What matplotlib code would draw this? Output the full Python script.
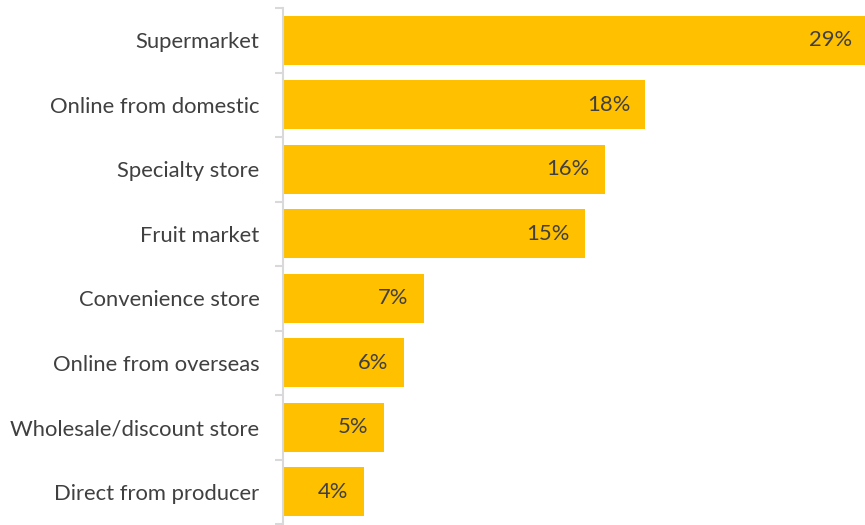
import matplotlib
matplotlib.use("Agg")
import matplotlib.pyplot as plt
from matplotlib.ticker import FixedLocator

categories = [
    "Supermarket",
    "Online from domestic",
    "Specialty store",
    "Fruit market",
    "Convenience store",
    "Online from overseas",
    "Wholesale/discount store",
    "Direct from producer",
]
shares = [29, 18, 16, 15, 7, 6, 5, 4]

BAR_COLOR = "#FFC000"
TEXT_COLOR = "#404040"
AXIS_COLOR = "#D9D9D9"

plt.rcParams["font.family"] = ["Lato", "DejaVu Sans"]

fig = plt.figure(figsize=(8.65, 5.25), dpi=100)
ax = fig.add_axes([283 / 865, 1 / 525, 1 - 283 / 865, 516 / 525])

y = list(range(len(categories)))
ax.barh(y, shares, height=0.76, color=BAR_COLOR)
ax.set_ylim(len(categories) - 0.5, -0.5)
ax.set_xlim(0, 28.9)

for yi, v in zip(y, shares):
    ax.annotate(f"{v}%", xy=(v, yi), xytext=(-11, 0), textcoords="offset points",
                ha="right", va="center", fontsize=15.8, color=TEXT_COLOR,
                annotation_clip=False)

ax.set_yticks(y)
ax.set_yticklabels(categories, fontsize=15.8, color=TEXT_COLOR)
ax.yaxis.set_minor_locator(FixedLocator([i - 0.5 for i in range(len(categories) + 1)]))
ax.tick_params(axis="y", which="major", length=0, pad=17)
ax.tick_params(axis="y", which="minor", length=5.5, width=1.5, color=AXIS_COLOR, direction="out")
ax.set_xticks([])

for side in ("top", "right", "bottom"):
    ax.spines[side].set_visible(False)
ax.spines["left"].set_color(AXIS_COLOR)
ax.spines["left"].set_linewidth(1.5)

fig.savefig("out.png", dpi=100)
